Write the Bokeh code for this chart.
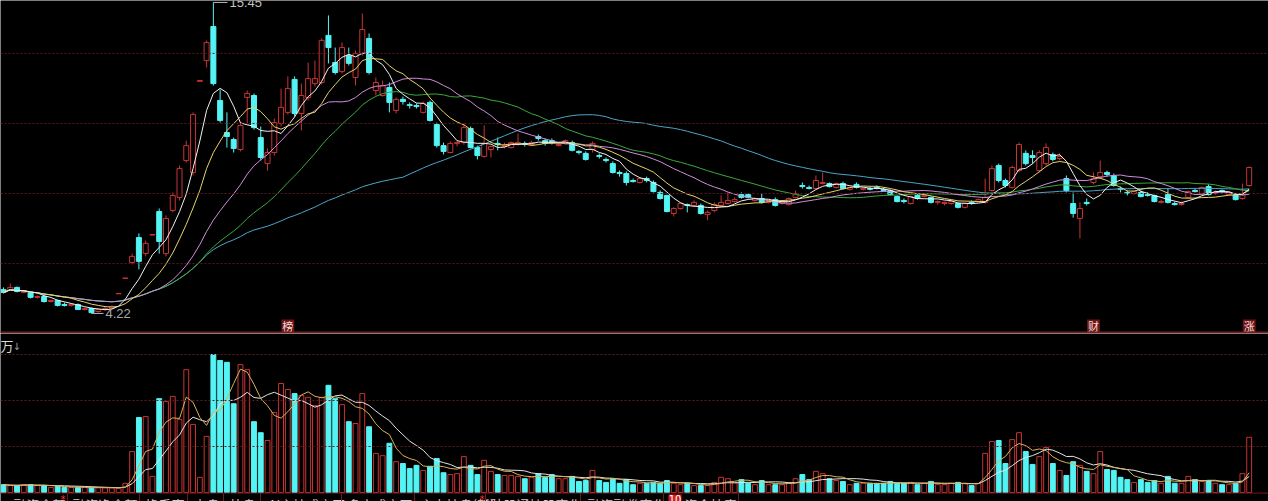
import numpy as np
import pandas as pd
from bokeh.plotting import figure
from bokeh.layouts import column
from bokeh.models import Range1d, Span, ColumnDataSource
from bokeh.core.properties import value
from bokeh.embed import file_html
from bokeh.resources import INLINE

# ---------------- data ----------------
opens = [5.08, 5.08, 5.16, 4.98, 4.98, 4.80, 4.83, 4.65, 4.69, 4.54, 4.51, 4.54, 4.36, 4.40, 4.29, 4.36, 4.40, 4.93, 5.48, 6.06,
         6.96, 6.38, 7.05, 7.90, 6.38, 7.94, 8.41, 9.74, 9.31, 12.60,
         13.35, 14.58, 11.91, 10.75, 10.50, 10.14, 12.02, 12.09, 10.57, 9.63,
         10.03, 11.08, 11.48, 12.67, 11.44, 12.02, 12.52, 12.56, 14.26, 13.28,
         12.96, 13.53, 12.74, 13.61, 14.15, 12.27, 12.09, 12.38, 11.55, 11.95,
         11.76, 11.73, 11.48, 11.84, 11.04, 10.28, 10.03, 10.36, 10.39, 10.90,
         10.21, 9.89, 10.14, 10.36, 10.25, 10.21, 10.32, 10.36, 10.32, 10.61,
         10.46, 10.46, 10.28, 10.36, 10.39, 10.07, 10.00, 10.14, 9.92, 9.78,
         9.63, 9.31, 9.27, 9.02, 8.95, 9.09, 8.95, 8.59, 8.48, 7.83,
         8.01, 8.15, 8.12, 8.12, 7.79, 7.94, 8.12, 8.19, 8.26, 8.51,
         8.51, 8.30, 8.37, 8.23, 8.33, 8.19, 8.15, 8.41, 8.84, 8.77,
         8.73, 8.91, 8.91, 8.77, 8.91, 8.70, 8.88, 8.70, 8.73, 8.77,
         8.70, 8.66, 8.44, 8.30, 8.19, 8.48, 8.44, 8.41, 8.23, 8.19,
         8.19, 8.19, 8.05, 8.23, 8.26, 8.23, 8.66, 9.56, 9.02, 8.77,
         9.38, 10.00, 9.92, 9.38, 9.63, 9.96, 9.81, 9.09, 8.19, 7.65,
         8.23, 8.95, 9.16, 9.31, 9.20, 8.73, 8.59, 8.55, 8.59, 8.51,
         8.48, 8.23, 8.51, 8.19, 8.15, 8.41, 8.66, 8.55, 8.80, 8.55,
         8.66, 8.51, 8.51, 8.37, 8.84]

closes = [4.98, 5.16, 5.01, 5.01, 4.80, 4.83, 4.65, 4.69, 4.51, 4.51, 4.54, 4.36, 4.40, 4.25, 4.36, 4.40, 4.47, 4.94, 5.50, 6.28,
          6.10, 6.75, 7.07, 6.82, 7.65, 8.48, 9.45, 10.28, 11.40, 12.63,
          14.00, 12.52, 11.19, 10.61, 10.18, 11.01, 12.16, 10.93, 9.85, 10.03,
          11.11, 11.66, 12.34, 11.44, 12.09, 12.70, 12.70, 14.08, 13.82, 12.92,
          13.82, 13.25, 13.61, 14.47, 12.92, 12.56, 12.45, 11.84, 11.95, 11.87,
          11.73, 11.69, 11.80, 11.19, 10.28, 10.07, 10.36, 10.39, 10.93, 10.21,
          9.92, 10.36, 10.25, 10.32, 10.28, 10.39, 10.39, 10.32, 10.39, 10.54,
          10.36, 10.39, 10.32, 10.46, 10.11, 10.03, 9.78, 10.36, 9.89, 9.74,
          9.31, 9.27, 8.95, 8.98, 9.09, 9.02, 8.62, 8.37, 7.90, 8.01,
          8.19, 8.12, 8.23, 7.83, 7.87, 8.15, 8.23, 8.30, 8.33, 8.41,
          8.41, 8.37, 8.23, 8.30, 8.12, 8.26, 8.37, 8.55, 8.80, 8.73,
          9.02, 8.95, 8.80, 8.91, 8.73, 8.77, 8.77, 8.73, 8.70, 8.73,
          8.66, 8.51, 8.26, 8.26, 8.44, 8.37, 8.48, 8.23, 8.26, 8.23,
          8.26, 8.05, 8.19, 8.19, 8.33, 8.41, 9.45, 9.02, 8.84, 9.49,
          10.32, 9.63, 9.85, 10.03, 10.21, 9.78, 9.89, 8.66, 7.83, 8.01,
          8.19, 9.09, 9.31, 9.24, 8.84, 8.70, 8.55, 8.62, 8.44, 8.48,
          8.26, 8.26, 8.23, 8.15, 8.19, 8.62, 8.62, 8.77, 8.51, 8.59,
          8.62, 8.59, 8.33, 8.51, 9.49]

highs = [5.16, 5.30, 5.19, 5.05, 5.01, 4.87, 4.87, 4.72, 4.72, 4.61, 4.58, 4.58, 4.43, 4.43, 4.40, 4.47, 4.51, 4.94, 5.50, 6.38,
         7.11, 6.85, 7.07, 8.01, 7.76, 8.59, 9.56, 10.46, 11.48, 12.63,
         14.08, 15.45, 12.31, 11.48, 10.57, 11.11, 12.27, 12.16, 10.97, 10.18,
         11.26, 12.34, 12.78, 12.78, 12.52, 13.28, 13.35, 14.15, 14.98, 13.82,
         14.00, 13.82, 13.71, 15.05, 14.33, 12.74, 12.63, 12.56, 12.02, 12.05,
         11.84, 11.80, 11.87, 11.91, 11.11, 10.39, 10.43, 10.46, 11.08, 10.97,
         10.28, 11.01, 10.28, 10.57, 10.39, 10.43, 10.72, 10.43, 10.46, 10.68,
         10.54, 10.54, 10.39, 10.50, 10.46, 10.11, 10.07, 10.43, 10.00, 9.85,
         9.71, 9.38, 9.35, 9.09, 9.13, 9.16, 9.02, 8.66, 8.51, 8.05,
         8.23, 8.19, 8.30, 8.19, 7.94, 8.23, 8.48, 8.59, 8.41, 8.59,
         8.55, 8.41, 8.55, 8.33, 8.41, 8.30, 8.41, 8.66, 8.95, 8.84,
         9.20, 9.31, 8.95, 8.95, 8.98, 8.80, 8.95, 8.77, 8.80, 8.84,
         8.77, 8.70, 8.48, 8.37, 8.48, 8.55, 8.51, 8.44, 8.30, 8.26,
         8.30, 8.23, 8.23, 8.30, 8.37, 9.09, 9.56, 9.63, 9.09, 9.56,
         10.39, 10.11, 10.11, 10.11, 10.36, 10.03, 10.00, 9.20, 8.59, 8.23,
         8.37, 9.31, 9.74, 9.38, 9.27, 8.80, 8.66, 8.66, 8.66, 8.59,
         8.51, 8.33, 8.73, 8.26, 8.26, 8.66, 8.73, 8.80, 8.88, 8.66,
         8.70, 8.62, 8.55, 8.91, 9.53]

lows = [4.94, 5.05, 4.98, 4.94, 4.76, 4.76, 4.61, 4.61, 4.47, 4.47, 4.47, 4.36, 4.33, 4.22, 4.25, 4.33, 4.36, 4.93, 5.48, 5.99,
        5.81, 6.28, 7.05, 6.38, 6.28, 7.87, 8.30, 9.67, 9.20, 12.60,
        13.10, 12.45, 11.11, 10.21, 10.03, 10.07, 11.08, 10.86, 9.74, 9.38,
        9.92, 10.97, 11.40, 11.33, 10.83, 11.91, 12.41, 12.49, 13.25, 12.85,
        12.88, 13.17, 12.45, 13.53, 12.85, 12.09, 12.05, 11.48, 11.44, 11.76,
        11.62, 11.62, 11.44, 11.15, 10.21, 9.96, 10.00, 10.25, 10.32, 10.18,
        9.78, 9.85, 9.85, 10.11, 10.18, 10.18, 10.28, 10.25, 10.28, 10.46,
        10.28, 10.32, 10.25, 10.32, 10.07, 9.96, 9.74, 10.03, 9.81, 9.67,
        9.27, 9.16, 8.84, 8.95, 8.91, 8.95, 8.59, 8.33, 7.87, 7.72,
        7.97, 7.87, 8.08, 7.79, 7.58, 7.87, 8.08, 8.15, 8.23, 8.37,
        8.37, 8.26, 8.19, 8.19, 8.08, 8.15, 8.12, 8.37, 8.73, 8.70,
        8.70, 8.88, 8.77, 8.73, 8.70, 8.66, 8.73, 8.66, 8.66, 8.70,
        8.62, 8.48, 8.23, 8.19, 8.15, 8.33, 8.41, 8.19, 8.15, 8.12,
        8.15, 8.01, 8.01, 8.15, 8.23, 8.19, 8.62, 8.95, 8.77, 8.73,
        9.31, 9.56, 9.63, 9.31, 9.56, 9.71, 9.74, 8.59, 7.68, 6.93,
        8.12, 8.88, 9.09, 9.16, 8.80, 8.59, 8.48, 8.51, 8.41, 8.44,
        8.23, 8.19, 8.19, 8.12, 8.12, 8.37, 8.59, 8.51, 8.48, 8.51,
        8.55, 8.48, 8.30, 8.33, 8.80]

# volume, in 万 (grid lines at 100 / 200 / 300)
volumes = [17, 15, 15, 17, 17, 15, 15, 11, 13, 11, 11, 11, 11, 11, 10, 10, 10, 9, 20, 89,
           163, 165, 35, 204, 198, 209, 159, 267, 148, 33,
           122, 300, 287, 283, 193, 278, 267, 154, 130, 113,
           174, 237, 224, 215, 211, 207, 189, 207, 233, 204,
           191, 154, 150, 215, 143, 85, 80, 107, 67, 63,
           52, 59, 48, 57, 74, 43, 39, 41, 78, 59,
           39, 70, 46, 39, 37, 37, 35, 30, 33, 41,
           33, 39, 30, 30, 35, 24, 26, 48, 26, 22,
           30, 20, 28, 17, 20, 20, 22, 20, 26, 20,
           17, 20, 15, 15, 15, 22, 33, 30, 22, 28,
           20, 17, 26, 17, 17, 17, 20, 30, 39, 28,
           46, 41, 30, 26, 24, 17, 20, 20, 20, 20,
           20, 24, 20, 20, 22, 17, 20, 24, 17, 17,
           20, 22, 20, 15, 20, 85, 111, 113, 63, 115,
           130, 89, 61, 78, 98, 63, 48, 37, 67, 59,
           46, 41, 89, 50, 48, 33, 28, 22, 28, 22,
           26, 20, 35, 20, 20, 35, 28, 24, 26, 20,
           17, 17, 20, 41, 120]

price_ma_periods = [60, 30, 20, 10, 5]
vol_ma_periods = [10, 5]
price_grid = [13.61, 11.08, 8.55, 6.02]
vol_grid = [100, 200, 300]
high_label = "15.45"
low_label = "4.22"
event_marks = ["榜", "财", "涨"]
event_index = [42, 161, 184]
tabs = ["融资余额", "融资净余额", "换手率", "内盘", "外盘", "AI主控成交图",
        "多空成交图", "主力控盘(新)", "陆股通持股变化", "融资融券变化", "资金抄底"]

# ---------------- layout helpers (reference pixel -> data) ----------------
X0, DX = 3.0, 6.77
def rx(px):
    return (px - X0) / DX

P_TOP, P_PER_PX = 15.52, 0.03611
def ryp(py):
    return P_TOP - py * P_PER_PX

V_BASE, V_PER_PX = 492.0, 2.174
def ryv(py):
    return (V_BASE - py) * V_PER_PX

RED = "#c83434"
CYAN = "#54f4f4"
GRID = "#5e1c1c"
W, H_PRICE, H_VOL = 1268, 333, 168
CJK = value("Noto Sans CJK SC")

n = len(closes)
idx = np.arange(n)
o = np.array(opens, dtype=float)
c = np.array(closes, dtype=float)
h = np.array(highs, dtype=float)
l = np.array(lows, dtype=float)
v = np.array(volumes, dtype=float)
up = c >= o

src = ColumnDataSource(dict(
    x=idx, h=h, l=l, top=np.maximum(o, c), bot=np.minimum(o, c), v=v,
    col=np.where(up, RED, CYAN).tolist(),
    fill=np.where(up, "#000000", CYAN).tolist(),
))

xr = Range1d(rx(0), rx(W))

# ---------------- price panel ----------------
pp = figure(width=W, height=H_PRICE, x_range=xr, y_range=Range1d(ryp(H_PRICE), ryp(0)),
            x_axis_type=None, y_axis_type=None, output_backend="svg",
            toolbar_location=None, min_border=0, background_fill_color="#000000",
            border_fill_color="#000000", outline_line_color=None)

for g in price_grid:
    pp.add_layout(Span(location=g, dimension="width", line_color=GRID,
                       line_dash="2 2", line_width=1))

pp.segment(x0="x", y0="h", x1="x", y1="l", line_color="col", line_width=1, source=src)
pp.vbar(x="x", width=0.74, top="top", bottom="bot", fill_color="fill",
        line_color="col", line_width=1, source=src)

ma_colors = {5: "#f2f2f2", 10: "#e6d46a", 20: "#d18ddc", 30: "#3ca83c", 60: "#4aa6c8"}
cs = pd.Series(c)
for per in price_ma_periods:
    pp.line(idx, cs.rolling(per, min_periods=1).mean().values,
            line_color=ma_colors[per], line_width=1)

# high / low annotations
hi_i = int(np.argmax(h))
lo_i = int(np.argmin(l))
pp.segment(x0=[hi_i], y0=[h[hi_i]], x1=[rx(227)], y1=[h[hi_i]], line_color="#b8b8b8", line_width=1)
pp.text(x=[rx(229)], y=[h[hi_i]], text=[high_label], text_color="#c0c0c0",
        text_font=value("Liberation Sans"), text_font_size="13px",
        text_baseline="middle", text_align="left")
pp.segment(x0=[lo_i], y0=[l[lo_i]], x1=[rx(103)], y1=[l[lo_i]], line_color="#b8b8b8", line_width=1)
pp.text(x=[rx(105)], y=[l[lo_i]], text=[low_label], text_color="#a8a8a8",
        text_font=value("Liberation Sans"), text_font_size="13px",
        text_baseline="middle", text_align="left")

# event markers
ev_x = np.array(event_index, dtype=float)
pp.rect(x=ev_x, y=[ryp(325.5)] * len(ev_x), width=1.9, height=13 * P_PER_PX,
        fill_color="#6e1414", line_color=None)
pp.text(x=ev_x, y=[ryp(325)] * len(ev_x), text=event_marks, text_color="#f4dede",
        text_font=CJK, text_font_size="11px", text_align="center", text_baseline="middle")

pp.add_layout(Span(location=ryp(332), dimension="width", line_color="#7e1c1c", line_width=2))

# ---------------- volume panel ----------------
pv = figure(width=W, height=H_VOL, x_range=xr, y_range=Range1d(ryv(501), ryv(333)),
            x_axis_type=None, y_axis_type=None, output_backend="svg",
            toolbar_location=None, min_border=0, background_fill_color="#000000",
            border_fill_color="#000000", outline_line_color=None)

for g in vol_grid:
    pv.add_layout(Span(location=g, dimension="width", line_color=GRID,
                       line_dash="2 2", line_width=1))

pv.vbar(x="x", width=0.72, top="v", bottom=0, fill_color="fill",
        line_color="col", line_width=1, source=src)

vol_colors = {5: "#d8b25a", 10: "#e4e4e4"}
vsr = pd.Series(v)
for per in vol_ma_periods:
    pv.line(idx, vsr.rolling(per, min_periods=1).mean().values,
            line_color=vol_colors[per], line_width=1)

pv.add_layout(Span(location=ryv(492.6), dimension="width", line_color="#701a1a", line_width=1))

# unit label
pv.text(x=[rx(0)], y=[ryv(345)], text=["万"], text_color="#d8d8d8", text_font=CJK,
        text_font_size="13px", text_baseline="middle", text_align="left")
pv.text(x=[rx(12)], y=[ryv(346)], text=["↓"], text_color="#a0a0a0",
        text_font=value("DejaVu Sans"), text_font_size="10px",
        text_baseline="middle", text_align="left")

# tab strip (only its upper half is inside the window, as in the reference)
tab_x = [13, 72, 145, 193, 229, 268, 347, 420, 490, 587, 684]
sep_x = [67, 139, 187, 223, 260, 341, 414, 485, 580, 663, 738]
pv.text(x=[rx(t) for t in tab_x], y=[ryv(494)] * len(tabs), text=tabs,
        text_color="#cccccc", text_font=CJK, text_font_size="13px",
        text_baseline="top", text_align="left")
pv.segment(x0=[rx(s) for s in sep_x], y0=[ryv(493)] * len(sep_x),
           x1=[rx(s) for s in sep_x], y1=[ryv(502)] * len(sep_x),
           line_color="#6a1c1c", line_width=1)
pv.text(x=[rx(60), rx(479)], y=[ryv(493), ryv(493)], text=["*", "*"],
        text_color="#ff3030", text_font=value("DejaVu Sans"), text_font_size="10px",
        text_baseline="top", text_align="left")
pv.quad(left=[rx(668)], right=[rx(681)], top=[ryv(494)], bottom=[ryv(506)],
        fill_color="#d42020", line_color=None)
pv.text(x=[rx(674.5)], y=[ryv(494.5)], text=["10"], text_color="#ffffff",
        text_font=value("DejaVu Sans"), text_font_size="10px",
        text_baseline="top", text_align="center")

layout = column(pp, pv, spacing=0)

html = file_html(layout, INLINE, title="K线")
html = html.replace("<body>", '<body style="background-color:#000000;">', 1)
open("out.html", "w").write(html)
